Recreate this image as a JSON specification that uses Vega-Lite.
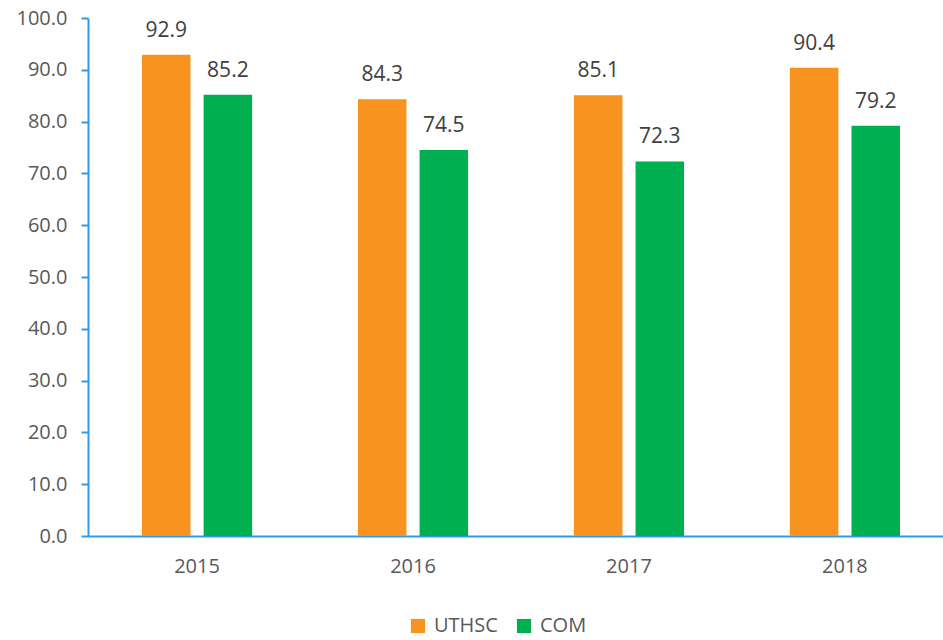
{
  "$schema": "https://vega.github.io/schema/vega-lite/v6.json",
  "width": 866,
  "height": 518,
  "autosize": "none",
  "padding": {"left": 88, "top": 18, "right": 0, "bottom": 104},
  "background": "white",
  "config": {"view": {"stroke": null}, "font": "Open Sans"},
  "data": {"values": [
    {"year": "2015", "group": "UTHSC", "value": 92.9},
    {"year": "2015", "group": "COM", "value": 85.2},
    {"year": "2016", "group": "UTHSC", "value": 84.3},
    {"year": "2016", "group": "COM", "value": 74.5},
    {"year": "2017", "group": "UTHSC", "value": 85.1},
    {"year": "2017", "group": "COM", "value": 72.3},
    {"year": "2018", "group": "UTHSC", "value": 90.4},
    {"year": "2018", "group": "COM", "value": 79.2}
  ]},
  "encoding": {
    "x": {"field": "year", "type": "nominal", "scale": {"paddingInner": 0.49, "paddingOuter": 0.25},
      "axis": {"title": null, "labelAngle": 0, "domainColor": "#2E9BF0", "domainWidth": 2, "ticks": false, "labelFontSize": 20, "labelColor": "#595959", "labelPadding": 20}},
    "xOffset": {"field": "group", "type": "nominal", "sort": ["UTHSC", "COM"], "scale": {"paddingInner": 0.213}},
    "y": {"field": "value", "type": "quantitative", "scale": {"domain": [0, 100]},
      "axis": {"title": null, "values": [0,10,20,30,40,50,60,70,80,90,100], "format": ".1f", "grid": false, "domainColor": "#2E9BF0", "domainWidth": 2, "tickColor": "#2E9BF0", "tickWidth": 2, "tickSize": 7, "labelFontSize": 20, "labelColor": "#595959", "labelPadding": 14}}
  },
  "layer": [
    {
      "mark": {"type": "bar"},
      "encoding": {
        "color": {"field": "group", "type": "nominal", "sort": ["UTHSC", "COM"],
          "scale": {"domain": ["UTHSC", "COM"], "range": ["#F7931E", "#00B050"]},
          "legend": {"title": null, "orient": "none", "legendX": 320, "legendY": 598, "direction": "horizontal", "symbolType": "square", "symbolSize": 200, "symbolStrokeWidth": 0, "labelFontSize": 20, "labelColor": "#595959", "columnPadding": 16, "labelOffset": 6}}
      }
    },
    {
      "mark": {"type": "text", "baseline": "bottom", "dy": -14, "fontSize": 21, "color": "#404040"},
      "encoding": {"text": {"field": "value", "type": "quantitative", "format": ".1f"}}
    }
  ]
}
